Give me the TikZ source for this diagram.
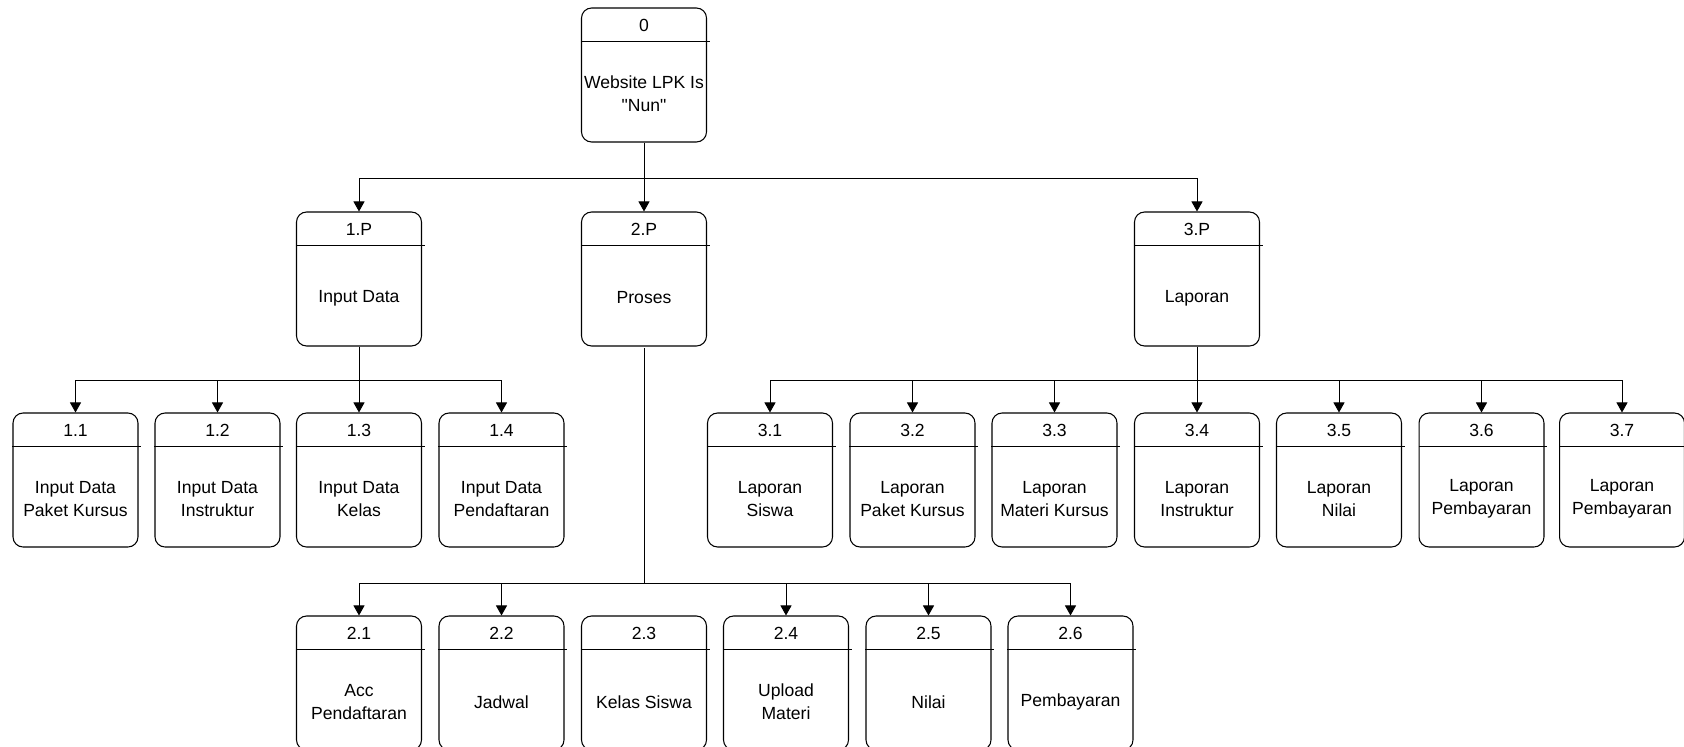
\documentclass[tikz,border=0pt]{standalone}
\usepackage{fontspec}
\setmainfont{Liberation Sans}
\usetikzlibrary{arrows.meta}

\tikzset{
  proses/.style={draw, rounded corners=0.2cm, minimum width=2.5cm, minimum height=2.68cm, line width=0.6pt},
  nomor/.style={font=\fontsize{10}{13}\selectfont},
  isi/.style={align=center, font=\fontsize{10}{13}\selectfont},
  garis/.style={line width=0.55pt},
  panah/.style={-{Triangle[width=0.22cm,length=0.2cm]}, line width=0.55pt},
}

% kotak proses: nama, posisi, nomor, teks
\newcommand{\prosesbox}[4]{%
  \node[proses] (#1) at (#2) {};
  \draw[line width=0.6pt] ([yshift=-0.68cm]#1.north west) -- ([yshift=-0.68cm,xshift=1.5pt]#1.north east);
  \node[nomor] (#1n) at ([yshift=-0.36cm]#1.north) {#3};
  \node[isi] (#1t) at ([yshift=-1.73cm]#1.north) {#4};
}

\begin{document}
\begin{tikzpicture}[x=0.02cm, y=-0.02cm]
\useasboundingbox (0,0) rectangle (1684,747);

\prosesbox{P0}{644,75}{0}{Website LPK Is\\\textquotedbl Nun\textquotedbl}

\prosesbox{P1}{359,279}{1.P}{Input Data}
\prosesbox{P2}{644,279}{2.P}{Proses}
\prosesbox{P3}{1197,279}{3.P}{Laporan}

\prosesbox{P11}{75.5,480}{1.1}{Input Data\\Paket Kursus}
\prosesbox{P12}{217.5,480}{1.2}{Input Data\\Instruktur}
\prosesbox{P13}{359,480}{1.3}{Input Data\\Kelas}
\prosesbox{P14}{501.5,480}{1.4}{Input Data\\Pendaftaran}

\prosesbox{P31}{770,480}{3.1}{Laporan\\Siswa}
\prosesbox{P32}{912.5,480}{3.2}{Laporan\\Paket Kursus}
\prosesbox{P33}{1054.5,480}{3.3}{Laporan\\Materi Kursus}
\prosesbox{P34}{1197,480}{3.4}{Laporan\\Instruktur}
\prosesbox{P35}{1339,480}{3.5}{Laporan\\Nilai}
\prosesbox{P36}{1481.5,480}{3.6}{Laporan\\Pembayaran}
\prosesbox{P37}{1622,480}{3.7}{Laporan\\Pembayaran}

\prosesbox{P21}{359,683}{2.1}{Acc\\Pendaftaran}
\prosesbox{P22}{501.5,683}{2.2}{Jadwal}
\prosesbox{P23}{644,683}{2.3}{Kelas Siswa}
\prosesbox{P24}{786,683}{2.4}{Upload\\Materi}
\prosesbox{P25}{928.5,683}{2.5}{Nilai}
\prosesbox{P26}{1070.5,683}{2.6}{Pembayaran}

\coordinate (J0) at (644,178);
\coordinate (J1) at (359,380);
\coordinate (J3) at (1197,380);
\coordinate (J2) at (644,583);

% level 0
\draw [garis] (P0.south) -- (J0);
\draw [garis] (P1.north |- J0) -- (P3.north |- J0);
\draw [panah] (P1.north |- J0) -- (P1.north);
\draw [panah] (J0) -- (P2.north);
\draw [panah] (P3.north |- J0) -- (P3.north);

% input data
\draw [garis] (P1.south) -- (J1);
\draw [garis] (P11.north |- J1) -- (P14.north |- J1);
\draw [panah] (P11.north |- J1) -- (P11.north);
\draw [panah] (P12.north |- J1) -- (P12.north);
\draw [panah] (J1) -- (P13.north);
\draw [panah] (P14.north |- J1) -- (P14.north);

% laporan
\draw [garis] (P3.south) -- (J3);
\draw [garis] (P31.north |- J3) -- (P37.north |- J3);
\draw [panah] (P31.north |- J3) -- (P31.north);
\draw [panah] (P32.north |- J3) -- (P32.north);
\draw [panah] (P33.north |- J3) -- (P33.north);
\draw [panah] (J3) -- (P34.north);
\draw [panah] (P35.north |- J3) -- (P35.north);
\draw [panah] (P36.north |- J3) -- (P36.north);
\draw [panah] (P37.north |- J3) -- (P37.north);

% proses
\draw [garis] ([yshift=-1pt]P2.south) -- (J2);
\draw [garis] (P21.north |- J2) -- (P26.north |- J2);
\draw [panah] (P21.north |- J2) -- (P21.north);
\draw [panah] (P22.north |- J2) -- (P22.north);
\draw [panah] (P24.north |- J2) -- (P24.north);
\draw [panah] (P25.north |- J2) -- (P25.north);
\draw [panah] (P26.north |- J2) -- (P26.north);
\end{tikzpicture}
\end{document}
